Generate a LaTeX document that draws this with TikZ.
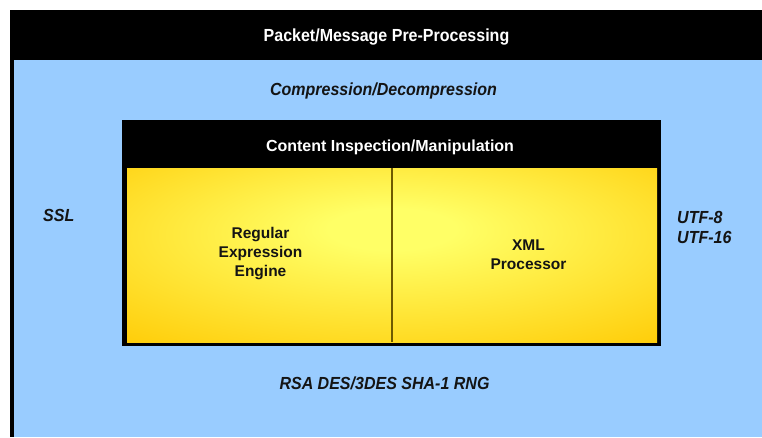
\documentclass[tikz,border=0pt]{standalone}
\usepackage{fontspec}
\setmainfont{Liberation Sans}
% slightly narrowed face for the title bar and the italic feature names
\newfontfamily\narrowface[FakeStretch=0.915]{Liberation Sans}
\definecolor{panelblue}{RGB}{153,204,255}
\definecolor{goldlo}{RGB}{255,200,0}
\definecolor{goldhi}{RGB}{255,255,102}
\definecolor{dividerline}{RGB}{110,90,0}
\definecolor{inktext}{RGB}{20,20,20}
% warm glow across the engine panel, brightest slightly above the middle
\pgfdeclareradialshading{engineglow}{\pgfpoint{0bp}{8bp}}{%
  color(0bp)=(goldhi); color(6bp)=(goldhi); color(42bp)=(goldlo); color(80bp)=(goldlo)}
\begin{document}
\begin{tikzpicture}[x=1pt,y=-1pt,
  titletext/.style={font=\narrowface\bfseries\fontsize{17.5}{20}\selectfont, text=white, inner sep=0pt},
  headtext/.style={font=\bfseries\fontsize{16}{19}\selectfont, text=white, inner sep=0pt},
  featuretext/.style={font=\narrowface\bfseries\itshape\fontsize{17.5}{20}\selectfont, text=inktext, inner sep=0pt},
  unittext/.style={font=\bfseries\fontsize{15.5}{19}\selectfont, text=inktext, align=center, inner sep=0pt}]
\useasboundingbox[fill=white] (0,0) rectangle (762,437);

% outer pre-processing block: black frame and title bar, blue body
\fill[black] (10,10) rectangle (762,437);
\fill[panelblue] (14,60) rectangle (762,437);

% inner content inspection block
\fill[black] (122,120) rectangle (661,346);
\shade[shading=engineglow] (127,168) rectangle (657,342);
\draw[dividerline, line width=2pt] (391.5,168) -- (391.5,342);

% labels
\node[titletext, anchor=base] (pre) at (386.5,41) {Packet/Message Pre-Processing};
\node[featuretext, anchor=base] (comp) at (383.5,95) {Compression/Decompression};
\node[headtext, anchor=base] (cim) at (390,151) {Content Inspection/Manipulation};
\node[unittext] (regex) at (260.5,254) {Regular\\Expression\\Engine};
\node[unittext] (xml) at (528.5,255) {XML\\Processor};
\node[featuretext, anchor=base west] (ssl) at (43,221) {SSL};
\node[featuretext, anchor=west, align=left] (utf) at (677,227) {UTF-8\\UTF-16};
\node[featuretext, anchor=base] (crypto) at (384.5,389) {RSA DES/3DES SHA-1 RNG};
\end{tikzpicture}
\end{document}
